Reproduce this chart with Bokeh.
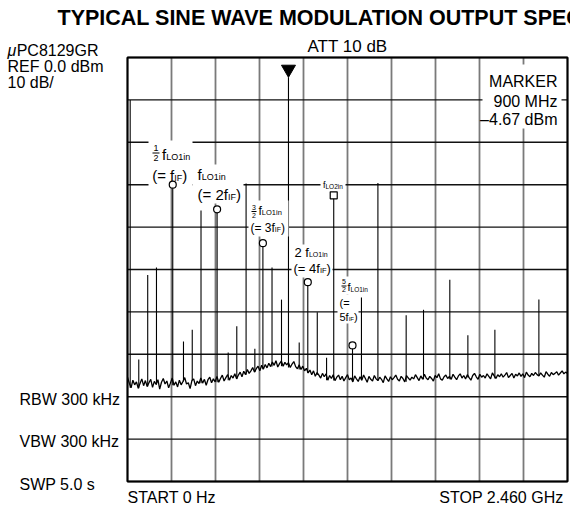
import numpy as np
from bokeh.plotting import figure
from bokeh.models import Range1d, Label, BoxAnnotation
from bokeh.embed import file_html
from bokeh.resources import INLINE

FONT = "Liberation Sans"

# ---------------- data ----------------
F_START, F_STOP = 0.0, 2460.0          # MHz
REF_DBM, DB_DIV = 0.0, 10.0
N_XDIV, N_YDIV = 10, 10

NOISE_STEP_MHZ = 10
noise_dbm = [
    -75.4, -76.8, -77.9, -76.1, -77.2, -76.5, -78.0, -76.9, -75.8, -77.4,
    -76.2, -77.6, -76.7, -75.9, -77.8, -76.4, -77.1, -76.0, -78.2, -76.6,
    -75.7, -77.0, -76.3, -77.9, -76.8, -75.6, -77.3, -76.5, -77.7, -76.1,
    -77.2, -76.4, -75.5, -77.0, -76.7, -78.1, -76.2, -75.8, -77.4, -76.3,
    -76.9, -75.6, -76.8, -75.9, -77.3, -76.0, -75.4, -76.7, -75.8, -76.5,
    -75.2, -76.6, -75.7, -74.9, -76.3, -75.5, -74.8, -76.1, -75.0, -75.6,
    -74.6, -75.8, -74.9, -74.2, -75.3, -74.0, -74.8, -73.6, -74.5, -73.9,
    -73.1, -74.2, -73.4, -72.8, -73.9, -72.6, -73.5, -72.4, -73.2, -72.1,
    -72.9, -71.8, -72.6, -71.5, -73.0, -72.2, -71.6, -72.8, -71.9, -72.5,
    -72.0, -73.1, -72.3, -71.7, -72.9, -73.4, -72.5, -73.6, -72.8, -73.9,
    -73.3, -74.4, -73.7, -74.8, -73.9, -75.2, -74.3, -74.9, -75.6, -74.5,
    -75.3, -74.6, -76.1, -75.0, -75.7, -74.8, -76.2, -75.4, -74.9, -76.0,
    -75.2, -76.3, -75.5, -74.8, -76.0, -75.6, -76.5, -75.1, -75.8, -76.4,
    -75.3, -76.1, -74.9, -75.7, -76.6, -75.2, -75.9, -76.3, -75.0, -75.8,
    -76.2, -75.4, -75.9, -76.7, -75.1, -75.8, -76.4, -75.3, -76.0, -75.5,
    -74.9, -75.9, -76.3, -75.2, -75.7, -76.5, -75.0, -75.6, -76.1, -75.4,
    -75.8, -74.8, -75.5, -76.2, -75.1, -75.9, -74.7, -75.6, -76.0, -75.2,
    -75.7, -76.3, -75.0, -75.5, -74.6, -75.8, -76.1, -75.3, -74.9, -75.7,
    -75.2, -75.9, -74.7, -75.4, -76.0, -75.1, -74.6, -75.6, -75.0, -75.8,
    -74.8, -75.5, -76.1, -75.0, -74.5, -75.3, -75.9, -74.7, -75.4, -75.0,
    -75.6, -74.6, -75.2, -75.8, -74.4, -75.1, -75.7, -74.8, -75.3, -74.6,
    -75.4, -74.9, -74.3, -75.5, -75.0, -74.5, -75.6, -74.7, -75.1, -74.4,
    -75.2, -74.6, -75.5, -74.2, -74.9, -75.3, -74.5, -75.0, -74.3, -74.8,
    -75.1, -74.4, -74.9, -75.4, -74.1, -74.7, -75.2, -74.3, -74.8, -74.5,
    -74.1, -74.9, -74.4, -73.9, -74.6, -74.2, -74.5,
]
noise_mhz = [i * NOISE_STEP_MHZ for i in range(len(noise_dbm))]

spike_mhz = [15, 63, 113, 162, 253, 313, 362, 411, 501, 563, 611, 663, 712,
             757, 808, 861, 900, 960, 1008, 1061, 1113, 1153, 1258, 1308,
             1400, 1558, 1655, 1802, 1903, 2054, 2300]
spike_dbm = [-10.0, -71.2, -51.3, -49.5, -30.0, -67.0, -64.2, -36.1, -35.8,
             -69.6, -63.4, -29.7, -68.7, -43.8, -49.5, -57.1, -4.67, -67.2,
             -53.0, -60.1, -70.8, -32.5, -67.9, -56.6, -29.6, -60.8, -59.5,
             -52.4, -65.5, -64.2, -57.1]

harm_mhz = [253, 501, 757, 1008, 1258]          # 1/2, 1, 3/2, 2, 5/2 x fLO1in
harm_dbm = [-30.0, -35.8, -43.8, -53.0, -67.9]
lo2_mhz = [1153]
lo2_dbm = [-32.5]
marker_mhz = [900]
marker_dbm = [-4.67]

# ---------------- layout mapping (screen px of the graticule) ----------------
GX0, GX1, GY0, GY1 = 127, 567, 57, 481
CW, CH = 570, 506

def fx(px):
    return F_START + (px - GX0) * (F_STOP - F_START) / (GX1 - GX0)

def fy(py):
    return REF_DBM - (py - GY0) * DB_DIV * N_YDIV / (GY1 - GY0)

BOTTOM = REF_DBM - DB_DIV * N_YDIV

p = figure(width=CW, height=CH, output_backend="svg", toolbar_location=None,
           x_range=Range1d(fx(0), fx(CW)), y_range=Range1d(fy(CH), fy(0)),
           x_axis_type=None, y_axis_type=None,
           min_border_left=0, min_border_right=0,
           min_border_top=0, min_border_bottom=0)
p.outline_line_color = None
p.background_fill_color = "white"
p.border_fill_color = "white"
p.xgrid.visible = False
p.ygrid.visible = False

# graticule
xt = list(np.linspace(F_START, F_STOP, N_XDIV + 1))
yt = list(np.linspace(BOTTOM, REF_DBM, N_YDIV + 1))
p.segment(x0=xt, y0=[BOTTOM] * len(xt), x1=xt, y1=[REF_DBM] * len(xt),
          line_color="#7a7a7a", line_width=1.8)
p.segment(x0=[F_START] * len(yt), y0=yt, x1=[F_STOP] * len(yt), y1=yt,
          line_color="#111111", line_width=1.4)
p.quad(left=[F_START], right=[F_STOP], bottom=[BOTTOM], top=[REF_DBM],
       fill_color=None, line_color="black", line_width=2)

# trace: noise floor + spectral lines
p.line(noise_mhz, noise_dbm, line_color="black", line_width=1.3)
bases = []
for f in spike_mhz:
    i = min(int(f // NOISE_STEP_MHZ), len(noise_dbm) - 2)
    bases.append(min(noise_dbm[i], noise_dbm[i + 1]))
p.segment(x0=spike_mhz, y0=bases, x1=spike_mhz, y1=spike_dbm,
          line_color="black", line_width=1.1)

# ---------------- annotations ----------------
ADV = {'(': 333, ')': 333, '=': 584, ' ': 278, 'f': 278, 'I': 278, 'F': 611,
       'L': 556, 'O': 778, 'i': 222, 'n': 556}

def adv(s, size):
    return sum(ADV.get(c, 556) for c in s) * size / 1000.0

def lab(xr, yr, text, size, align="left", style="normal", dx=0.0):
    # yr is the wanted baseline; the label is positioned by its middle
    p.add_layout(Label(x=fx(xr), y=fy(yr - 0.37 * size), x_offset=dx, text=text,
                       text_font=FONT, text_font_size=f"{size}px",
                       text_font_style=style, text_align=align,
                       text_baseline="alphabetic", text_color="black"))

def runs(xr, yr, parts):
    dx = 0.0
    for t, s in parts:
        lab(xr, yr, t, s, dx=dx)
        dx += adv(t, s)

def wbox(x0, y0, x1, y1):
    p.add_layout(BoxAnnotation(left=fx(x0), right=fx(x1), top=fy(y0),
                               bottom=fy(y1), fill_color="white",
                               fill_alpha=1.0, line_color=None))

def frac(xc, ybar, num, den, size, half):
    lab(xc, ybar - 1.5, num, size, align="center")
    lab(xc, ybar + 1.5 + size * 0.72, den, size, align="center")
    p.segment(x0=[fx(xc - half)], y0=[fy(ybar)], x1=[fx(xc + half)],
              y1=[fy(ybar)], line_color="black", line_width=1, level="overlay")

# white backgrounds behind annotation blocks
wbox(148, 140, 192, 186)
wbox(192, 164, 243, 203)
wbox(248, 200, 288, 236)
wbox(291, 244, 332, 277)
wbox(337, 276, 369, 294)
wbox(337, 294, 358, 323)
wbox(320, 180, 345, 189)
wbox(482, 64, 561, 128)

# 1/2 fLO1in (= fIF)
frac(155.5, 152.5, "1", "2", 9, 3.5)
runs(161.5, 160, [("f", 15), ("LO1in", 9)])
runs(151.7, 181, [("(= f", 15), ("IF", 9), (")", 15)])
# fLO1in (= 2fIF)
runs(197, 180, [("f", 15), ("LO1in", 9)])
runs(197, 200, [("(= 2f", 15), ("IF", 9), (")", 15)])
# 3/2 fLO1in (= 3fIF)
frac(253.5, 211, "3", "2", 7, 2.5)
runs(258, 215, [("f", 12), ("LO1in", 7.5)])
runs(250, 232, [("(= 3f", 12), ("IF", 7), (")", 12)])
# 2 fLO1in (= 4fIF)
runs(294, 257, [("2 f", 13), ("LO1in", 7)])
runs(293, 273, [("(= 4f", 13), ("IF", 7.5), (")", 13)])
# 5/2 fLO1in (= 5fIF)
frac(343.5, 285.5, "5", "2", 7, 2.5)
runs(347, 291, [("f", 11), ("LO1in", 6.5)])
lab(339, 307, "(=", 11)
runs(339, 321, [("5f", 11), ("IF", 6), (")", 11)])
# fLO2in
runs(322.5, 188, [("f", 9), ("LO2in", 6.5)])

# marker readout
lab(557, 87, "MARKER", 16, align="right")
lab(557, 107, "900 MHz", 16, align="right")
lab(557, 125, "\u20134.67 dBm", 16, align="right")

# surrounding texts
lab(57, 25, "TYPICAL SINE WAVE MODULATION OUTPUT SPECTRUM", 21.5, style="bold")
lab(347, 52, "ATT 10 dB", 17, align="center")
lab(7, 56, "\u03bc", 16, style="italic")
lab(7, 56, "PC8129GR", 16, dx=9.2)
lab(7, 72, "REF 0.0 dBm", 16)
lab(7, 88, "10 dB/", 16)
lab(19, 405, "RBW 300 kHz", 16)
lab(19, 447, "VBW 300 kHz", 16)
lab(19, 490, "SWP 5.0 s", 16)
lab(127, 503, "START 0 Hz", 16)
lab(563, 503, "STOP 2.460 GHz", 16, align="right")

# symbols
p.scatter(harm_mhz, harm_dbm, marker="circle", size=7, fill_color="white",
          line_color="black", line_width=1.2, level="overlay")
p.scatter(lo2_mhz, lo2_dbm, marker="square", size=7, fill_color="white",
          line_color="black", line_width=1.2, level="overlay")
p.scatter(marker_mhz, [d + 1.9 for d in marker_dbm], marker="inverted_triangle",
          size=14, fill_color="black", line_color="black", level="overlay")

open("out.html", "w").write(file_html(p, INLINE))
